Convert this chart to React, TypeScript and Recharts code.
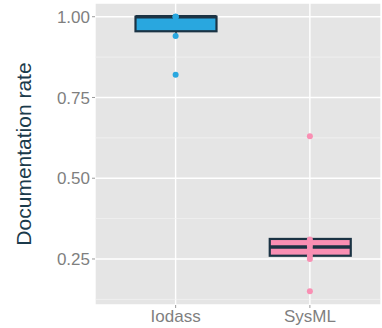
import React from 'react';
import { ComposedChart, Bar, Scatter, XAxis, YAxis, CartesianGrid, ReferenceLine, Label } from 'recharts';

const categories = ['Iodass', 'SysML'];
const lowerWhisker = [0.94, 0.25];
const lowerQuartile = [0.955, 0.26];
const medianValue = [1.0, 0.287];
const upperQuartile = [1.0, 0.312];
const upperWhisker = [1.0, 0.312];
const iodassPoints = [1.0, 1.0, 1.0, 0.94, 0.82];
const sysmlPoints = [0.63, 0.31, 0.3, 0.29, 0.28, 0.27, 0.26, 0.25, 0.15];
const yTicks = [0.25, 0.5, 0.75, 1.0];
const minorTicks = [0.125, 0.375, 0.625, 0.875];

const fills = ['#29a7df', '#f98fb3'];
const outline = '#1b3344';

const boxData = categories.map((cat, i) => ({
  cat,
  box: [lowerQuartile[i], upperQuartile[i]],
  lo: lowerWhisker[i],
  med: medianValue[i],
  hi: upperWhisker[i],
  fill: fills[i],
}));

const iodassData = iodassPoints.map((value) => ({ cat: categories[0], value }));
const sysmlData = sysmlPoints.map((value) => ({ cat: categories[1], value }));

// box + whiskers + median, positioned from the bar's own scaled rect
function BoxShape(props: any) {
  const { x, y, width, height, payload } = props;
  const [q1, q3] = payload.box;
  const ppu = height / (q3 - q1);
  const toY = (v: number) => y + (q3 - v) * ppu;
  const cx = x + width / 2;
  return (
    <g>
      <line x1={cx} x2={cx} y1={toY(payload.hi)} y2={y} stroke={outline} strokeWidth={1.5} />
      <line x1={cx} x2={cx} y1={y + height} y2={toY(payload.lo)} stroke={outline} strokeWidth={1.5} />
      <rect x={x} y={y} width={width} height={height} fill={payload.fill} stroke={outline} strokeWidth={2.2} />
      <line x1={x} x2={x + width} y1={toY(payload.med)} y2={toY(payload.med)} stroke={outline} strokeWidth={3.5} />
    </g>
  );
}

const dot = (color: string) => (p: any) => <circle cx={p.cx} cy={p.cy} r={3} fill={color} />;

export default function App() {
  return (
    <div style={{ position: 'absolute', left: 0, top: 0, fontFamily: 'Arial, "Liberation Sans", sans-serif' }}>
      <ComposedChart width={382} height={328} data={boxData} margin={{ top: 3, right: 1, bottom: 0, left: 0 }}>
        <CartesianGrid fill="#e5e5e5" fillOpacity={1} stroke="#ffffff" strokeWidth={1.4} />
        {minorTicks.map((v) => (
          <ReferenceLine key={v} y={v} stroke="#f3f3f3" strokeWidth={0.7} />
        ))}
        <XAxis
          dataKey="cat"
          type="category"
          allowDuplicatedCategory={false}
          interval={0}
          padding={{ left: 13.5, right: 4 }}
          axisLine={false}
          tickSize={3}
          tickMargin={2}
          tickLine={{ stroke: '#9a9a9a' }}
          tick={{ fill: '#7f7f7f', fontSize: 17 }}
          height={23}
        />
        <YAxis
          type="number"
          domain={[0.1075, 1.0425]}
          allowDataOverflow
          ticks={yTicks}
          tickFormatter={(v: number) => v.toFixed(2)}
          axisLine={false}
          tickSize={3}
          tickMargin={2}
          tickLine={{ stroke: '#9a9a9a' }}
          tick={{ fill: '#7f7f7f', fontSize: 17 }}
          width={95}
        >
          <Label
            content={({ viewBox }: any) => {
              const lx = viewBox.x + 23;
              const ly = viewBox.y + viewBox.height / 2;
              return (
                <text
                  x={lx}
                  y={ly}
                  transform={`rotate(-90, ${lx}, ${ly})`}
                  textAnchor="middle"
                  dominantBaseline="central"
                  fill="#1b3a4b"
                  fontSize={21}
                >
                  Documentation rate
                </text>
              );
            }}
          />
        </YAxis>
        <Bar dataKey="box" barSize={81} shape={BoxShape} isAnimationActive={false} />
        <Scatter data={iodassData} dataKey="value" shape={dot(fills[0])} isAnimationActive={false} />
        <Scatter data={sysmlData} dataKey="value" shape={dot(fills[1])} isAnimationActive={false} />
      </ComposedChart>
    </div>
  );
}
